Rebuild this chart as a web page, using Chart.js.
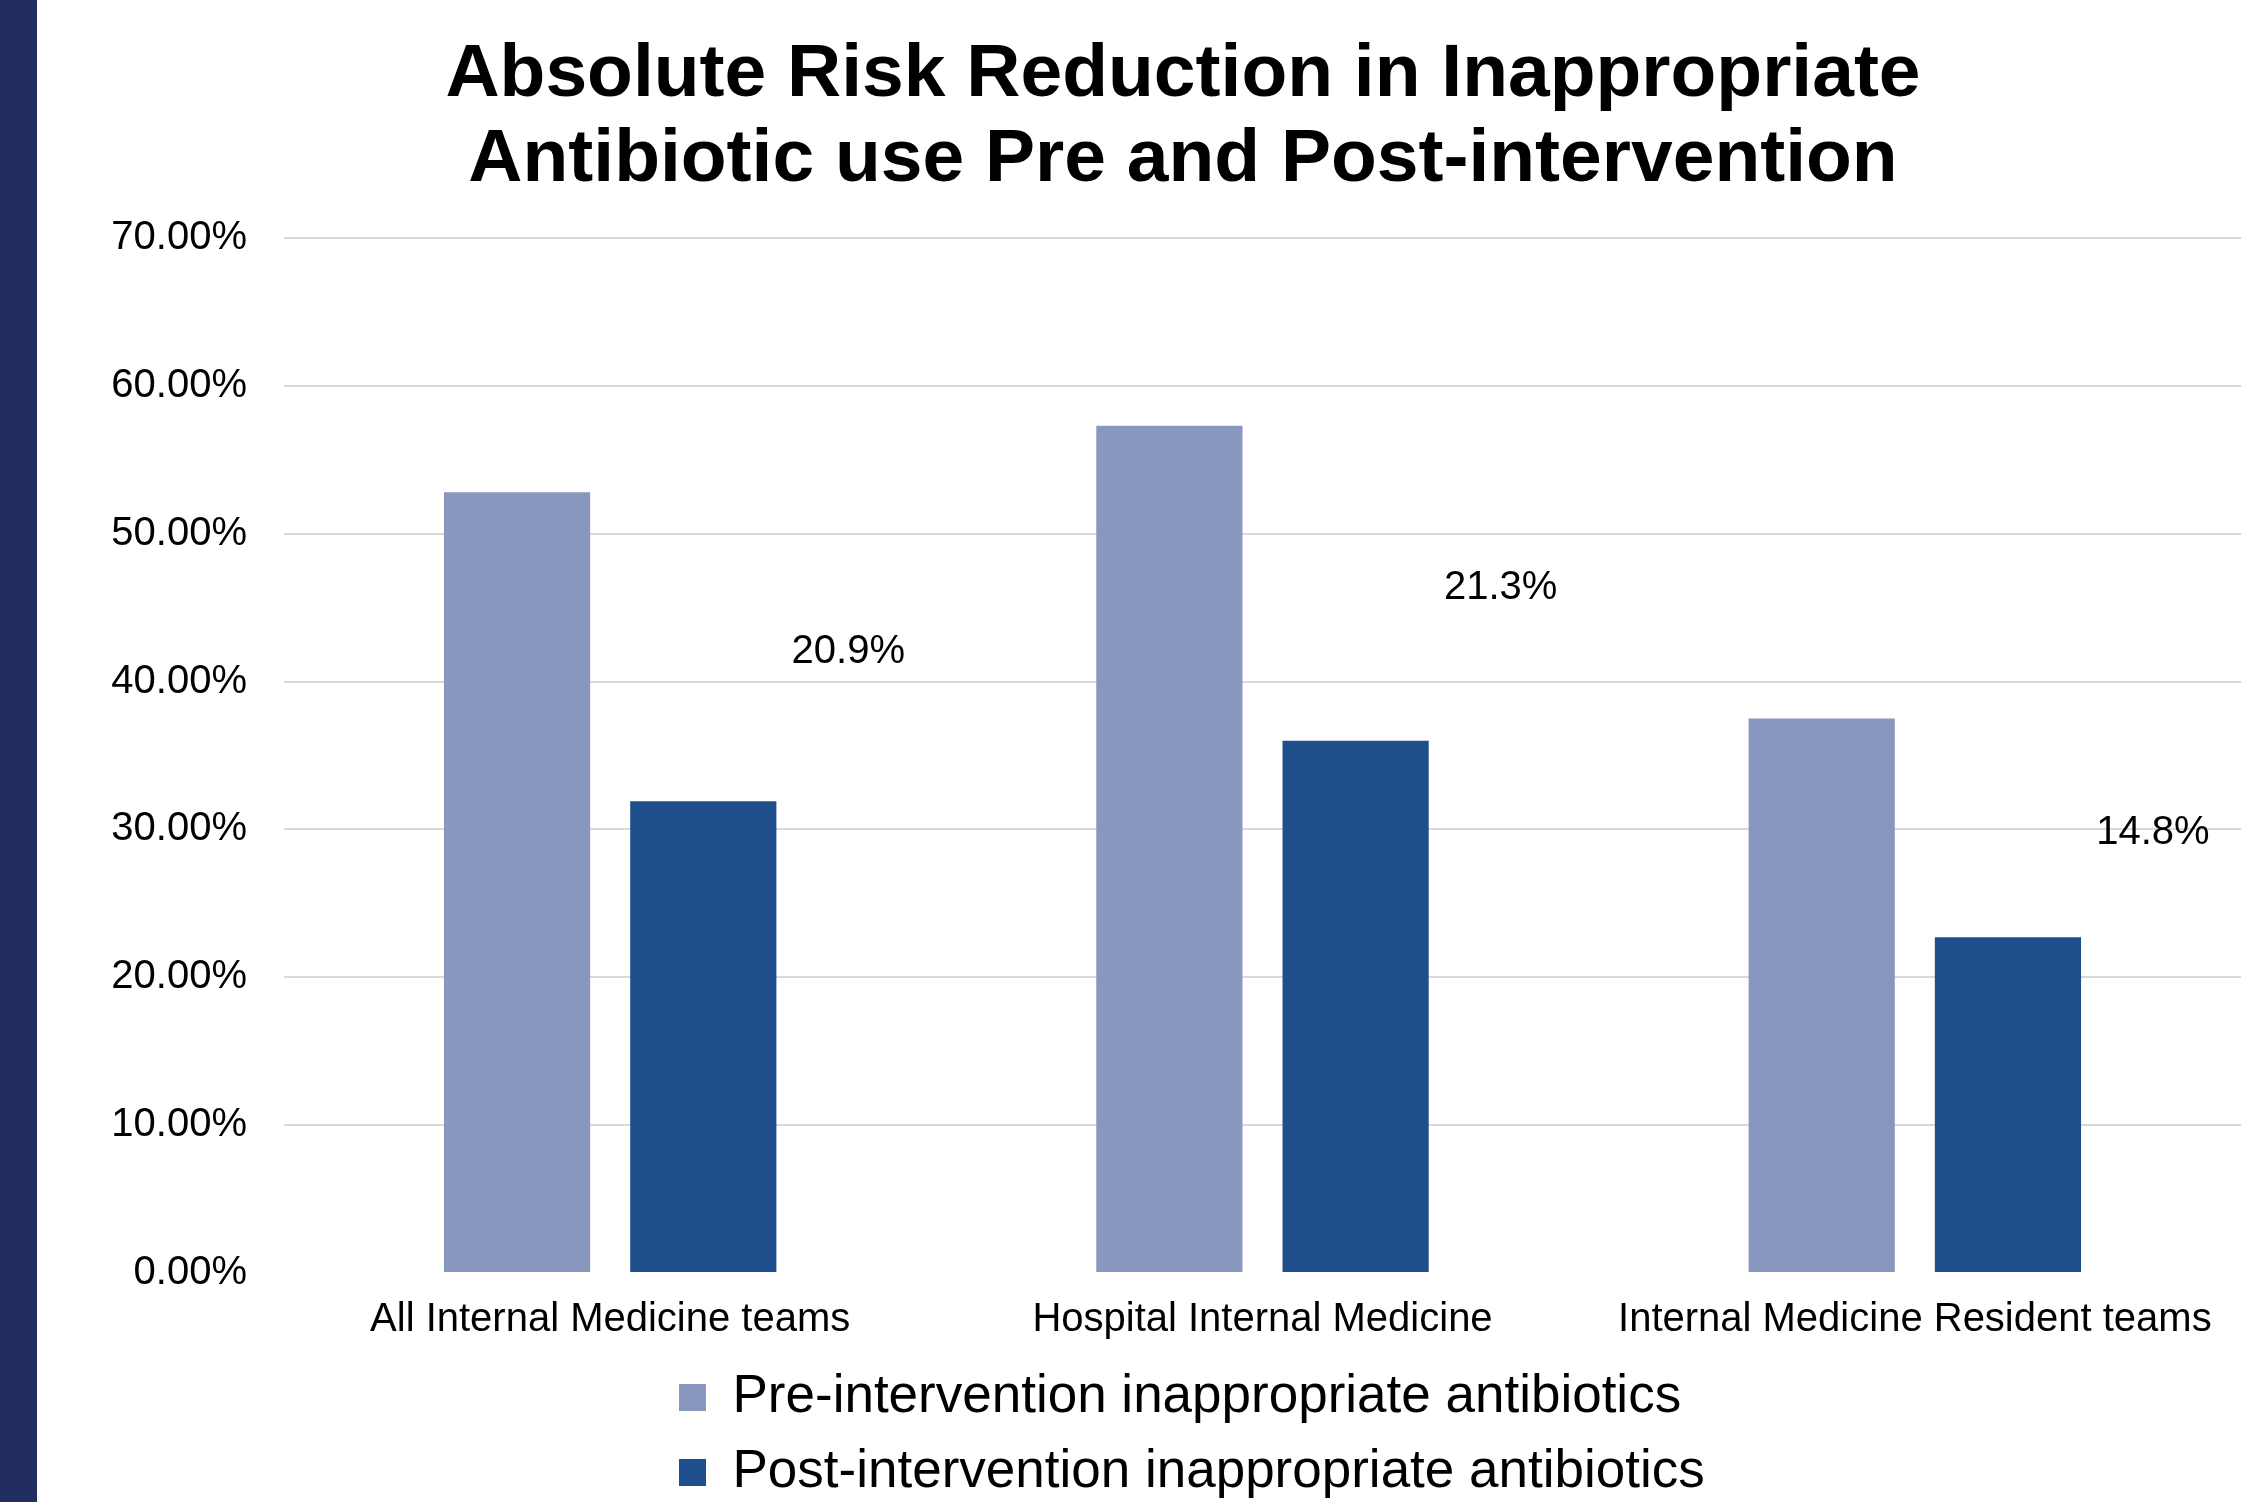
<!DOCTYPE html>
<html>
<head>
<meta charset="utf-8">
<script src="https://cdn.jsdelivr.net/npm/chart.js@4/dist/chart.umd.min.js"></script>
<style>
  html, body { margin: 0; padding: 0; background: #ffffff; }
  #wrap { position: relative; width: 2267px; height: 1502px; overflow: hidden; }
  #stripe { position: absolute; left: 0; top: 0; width: 37px; height: 1502px; background: #222D60; z-index: 2; }
  canvas { position: absolute; left: 0; top: 0; }
</style>
</head>
<body>
<div id="wrap">
  <div id="stripe"></div>
  <canvas id="c" width="2267" height="1502"></canvas>
</div>
<script>
// ---- data ----
const categories = ['All Internal Medicine teams', 'Hospital Internal Medicine', 'Internal Medicine Resident teams'];
const preValues = [52.8, 57.3, 37.5];
const postValues = [31.9, 36.0, 22.7];
const seriesNames = ['Pre-intervention inappropriate antibiotics', 'Post-intervention inappropriate antibiotics'];
const yTicks = [0, 10, 20, 30, 40, 50, 60, 70];
const chartTitle = ['Absolute Risk Reduction in Inappropriate', 'Antibiotic use Pre and Post-intervention'];

const FONT = "'Liberation Sans', Arial, Helvetica, sans-serif";

// Labels showing absolute risk reduction (pre - post), placed between the two series
const arrLabels = {
  id: 'arrLabels',
  afterDatasetsDraw(chart) {
    const {ctx, scales: {x, y}} = chart;
    const catW = x.width / categories.length;
    ctx.save();
    ctx.font = '40px ' + FONT;
    ctx.fillStyle = '#000000';
    ctx.textAlign = 'center';
    ctx.textBaseline = 'middle';
    categories.forEach((c, i) => {
      const diff = preValues[i] - postValues[i];
      const px = x.getPixelForValue(i) + 0.365 * catW;
      const py = y.getPixelForValue((preValues[i] + postValues[i]) / 2) + 5;
      ctx.fillText(diff.toFixed(1) + '%', px, py);
    });
    ctx.restore();
  }
};

// Fine placement of the title and legend blocks
const blockPlacer = {
  id: 'blockPlacer',
  afterLayout(chart) {
    const t = chart.titleBlock;
    if (t) { t.left = 125; t.right = 2241; }
    const lg = chart.legend;
    if (lg) {
      const w = lg.right - lg.left;
      lg.left = 657;
      lg.right = lg.left + w;
      lg.top += 7;
      lg.bottom += 7;
    }
  }
};

new Chart(document.getElementById('c'), {
  type: 'bar',
  data: {
    labels: categories,
    datasets: [
      { label: seriesNames[0], data: preValues, backgroundColor: '#8897BE', borderWidth: 0,
        categoryPercentage: 0.571, barPercentage: 0.785 },
      { label: seriesNames[1], data: postValues, backgroundColor: '#1F4E8D', borderWidth: 0,
        categoryPercentage: 0.571, barPercentage: 0.785 }
    ]
  },
  options: {
    responsive: false,
    animation: false,
    devicePixelRatio: 1,
    layout: { padding: { left: 60, right: 26, top: 0, bottom: 0 } },
    plugins: {
      title: {
        display: true,
        text: chartTitle,
        color: '#000000',
        font: { family: FONT, size: 75, weight: 'bold', lineHeight: 85 / 75 },
        padding: { top: 32.5, bottom: 35.5 }
      },
      legend: {
        display: true,
        position: 'bottom',
        align: 'start',
        fullSize: false,
        labels: {
          color: '#000000',
          font: { family: FONT, size: 53 },
          boxWidth: 27,
          boxHeight: 27,
          padding: 22
        }
      },
      tooltip: { enabled: false }
    },
    scales: {
      x: {
        afterFit(scale) { scale.height = 69; },
        grid: { display: false, drawTicks: false },
        border: { display: false },
        ticks: { color: '#000000', font: { family: FONT, size: 40 }, padding: 23, maxRotation: 0 }
      },
      y: {
        min: 0,
        max: 70,
        afterBuildTicks(scale) { scale.ticks = yTicks.map(v => ({ value: v })); },
        afterFit(scale) { scale.width = 224; },
        grid: {
          drawTicks: false,
          color: (c) => (c.tick && c.tick.value === 0) ? 'rgba(0,0,0,0)' : '#D9D9D9',
          lineWidth: 2
        },
        border: { display: false },
        ticks: {
          color: '#000000',
          font: { family: FONT, size: 40 },
          padding: 37,
          callback: (v) => Number(v).toFixed(2) + '%'
        }
      }
    }
  },
  plugins: [arrLabels, blockPlacer]
});
</script>
</body>
</html>
